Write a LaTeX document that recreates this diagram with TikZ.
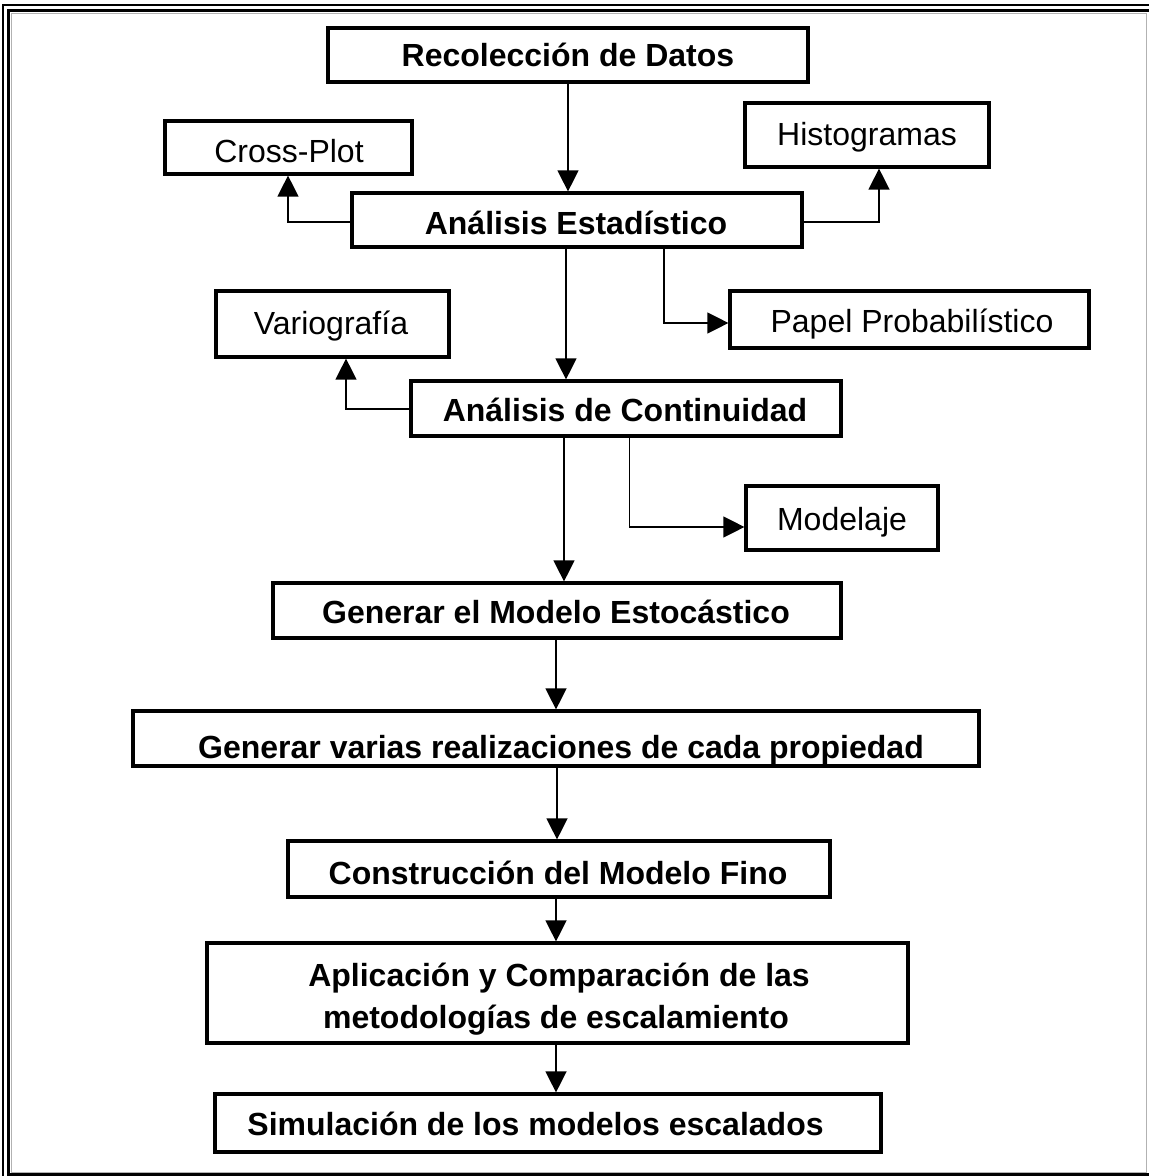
\documentclass[tikz,border=0pt]{standalone}
\usepackage{fontspec}
\setmainfont{Liberation Sans}
\usetikzlibrary{arrows.meta,fit}

\begin{document}
\begin{tikzpicture}[x=0.5pt,y=-0.5pt,
  box/.style={draw, line width=1.6pt, inner sep=0pt, rectangle},
  lbl/.style={anchor=base, inner sep=0pt, font=\fontsize{16}{18.4}\selectfont},
  blbl/.style={anchor=base, inner sep=0pt, font=\fontsize{16}{18.4}\selectfont\bfseries},
  arr/.style={line width=0.65pt, -{Triangle[length=10.5pt,width=10.5pt]}},
]
\useasboundingbox (0,0) rectangle (1149,1176);
\clip (0,0) rectangle (1149,1176);

% page frame
\draw[line width=1pt] (3,1190) -- (3,5) -- (1170,5);
\draw[line width=1.5pt] (8.5,1190) -- (8.5,11) -- (1170,11);
\draw[black!30, line width=0.5pt] (11.5,1172.5) -- (11.5,13.5) -- (1146.5,13.5) -- (1146.5,1172.5) -- cycle;
\draw[line width=1.5pt] (8.5,1174.5) -- (1170,1174.5);

% boxes
\node[box, fit={(328,28) (808,82)}] (rec) {};
\node[box, fit={(165,121) (412,174)}] (cross) {};
\node[box, fit={(745,103) (989,167)}] (hist) {};
\node[box, fit={(352,193) (802,247)}] (stat) {};
\node[box, fit={(216,291) (449,357)}] (var) {};
\node[box, fit={(730,291) (1089,348)}] (papel) {};
\node[box, fit={(411,381) (841,436)}] (cont) {};
\node[box, fit={(746,486) (938,550)}] (mod) {};
\node[box, fit={(273,583) (841,638)}] (gen) {};
\node[box, fit={(133,711) (979,766)}] (varias) {};
\node[box, fit={(288,841) (830,897)}] (cons) {};
\node[box, fit={(207,943) (908,1043)}] (apl) {};
\node[box, fit={(215,1094) (881,1152)}] (sim) {};

% labels
\node[blbl] (tRec) at (568,67) {Recolección de Datos};
\node[lbl] (tCross) at (289,163) {Cross-Plot};
\node[lbl] (tHist) at (867,146) {Histogramas};
\node[blbl] (tStat) at (576,235) {Análisis Estadístico};
\node[lbl] (tVar) at (331,335) {Variografía};
\node[lbl] (tPapel) at (912,333) {Papel Probabilístico};
\node[blbl] (tCont) at (625,421) {Análisis de Continuidad};
\node[lbl] (tMod) at (842,530) {Modelaje};
\node[blbl] (tGen) at (556,623) {Generar el Modelo Estocástico};
\node[blbl] (tVarias) at (561,758) {Generar varias realizaciones de cada propiedad};
\node[blbl] (tCons) at (558,884) {Construcción del Modelo Fino};
\node[blbl] (tApl1) at (559,986) {Aplicación y Comparación de las};
\node[blbl] (tApl2) at (556,1028) {metodologías de escalamiento};
\node[blbl] (tSim) at (535.5,1135) {Simulación de los modelos escalados};

% connector columns and bends
\coordinate (c1) at (568,0);
\coordinate (jL) at (288,222);
\coordinate (jR) at (879,222);
\coordinate (c4) at (566,0);
\coordinate (jP) at (664,323);
\coordinate (jV) at (346,409);
\coordinate (c7) at (564,0);
\coordinate (jM) at (629.5,527);
\coordinate (c9) at (556,0);
\coordinate (c10) at (557,0);

% connectors
\draw[arr] (rec.south -| c1) -- (stat.north -| c1);
\draw[arr] (stat.west |- jL) -| (cross.south -| jL);
\draw[arr] (stat.east |- jR) -| (hist.south -| jR);
\draw[arr] (stat.south -| c4) -- (cont.north -| c4);
\draw[arr] (stat.south -| jP) |- (papel.west |- jP);
\draw[arr] (cont.west |- jV) -| (var.south -| jV);
\draw[arr] (cont.south -| c7) -- (gen.north -| c7);
\draw[arr] (cont.south -| jM) |- (mod.west |- jM);
\draw[arr] (gen.south -| c9) -- (varias.north -| c9);
\draw[arr] (varias.south -| c10) -- (cons.north -| c10);
\draw[arr] (cons.south -| c9) -- (apl.north -| c9);
\draw[arr] (apl.south -| c9) -- (sim.north -| c9);
\end{tikzpicture}
\end{document}
